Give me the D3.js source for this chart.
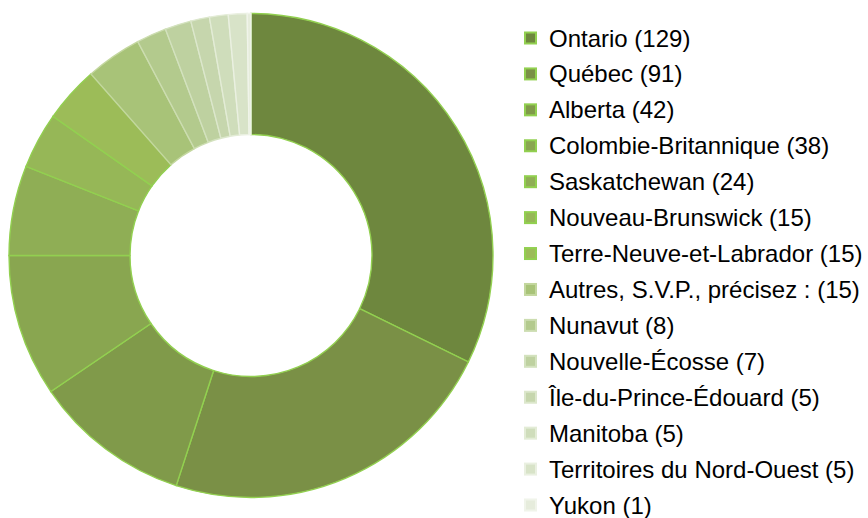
<!DOCTYPE html>
<html lang="fr">
<head>
    <meta charset="UTF-8">
    <title>Provinces</title>
    <script src="https://d3js.org/d3.v7.min.js"></script>
    <style>
        body {
            margin: 0;
            background-color: #fff;
            overflow: hidden;
        }
        text {
            font-family: "Liberation Sans", Arial, sans-serif;
        }
    </style>
</head>
<body>
    <script>
        // Categories and counts
        const provinces = ["Ontario", "Québec", "Alberta", "Colombie-Britannique", "Saskatchewan",
            "Nouveau-Brunswick", "Terre-Neuve-et-Labrador", "Autres, S.V.P., précisez :", "Nunavut",
            "Nouvelle-Écosse", "Île-du-Prince-Édouard", "Manitoba", "Territoires du Nord-Ouest", "Yukon"];
        const counts = [129, 91, 42, 38, 24, 15, 15, 15, 8, 7, 5, 5, 5, 1];

        // Slice colours (fill and border)
        const fills = ["#6e873e", "#7a9046", "#809a4a", "#89a650", "#8fae55", "#96b757", "#9cbc58",
            "#a8c378", "#b3ca8d", "#bed1a0", "#c6d6ad", "#cfddbb", "#d8e3c8", "#e6ecdc"];
        const borders = ["#92d050", "#92d050", "#92d050", "#92d050", "#92d050", "#92d050", "#92d050",
            "#c3d79e", "#ccddb0", "#d3e2be", "#dce7cc", "#e3ecd6", "#eaf0e1", "#f0f4ea"];

        const width = 868, height = 518;
        const cx = 251, cy = 255.5;
        const outerR = 242, innerR = 121;

        const svg = d3.select("body").append("svg")
            .attr("width", width)
            .attr("height", height);

        const data = provinces.map((p, i) => ({ name: p, value: counts[i], i: i }));

        const pie = d3.pie().value(d => d.value).sort(null);
        const arc = d3.arc().innerRadius(innerR).outerRadius(outerR);

        // Donut
        svg.append("g")
            .attr("transform", `translate(${cx},${cy})`)
            .selectAll("path")
            .data(pie(data))
            .join("path")
            .attr("d", arc)
            .attr("fill", d => fills[d.data.i])
            .attr("stroke", d => borders[d.data.i])
            .attr("stroke-width", 1.4);

        // Legend
        const rowY = d3.scaleLinear().domain([0, provinces.length - 1]).range([38, 505]);

        const legend = svg.append("g");
        const items = legend.selectAll("g")
            .data(data)
            .join("g")
            .attr("transform", d => `translate(0,${rowY(d.i)})`);

        items.append("rect")
            .attr("x", 525)
            .attr("y", -5.5)
            .attr("width", 11)
            .attr("height", 11)
            .attr("fill", d => fills[d.i])
            .attr("stroke", d => borders[d.i])
            .attr("stroke-width", 2);

        items.append("text")
            .attr("x", 549)
            .attr("y", 8.5)
            .attr("font-size", "24px")
            .attr("fill", "#000")
            .text(d => `${d.name} (${d.value})`);
    </script>
</body>
</html>
